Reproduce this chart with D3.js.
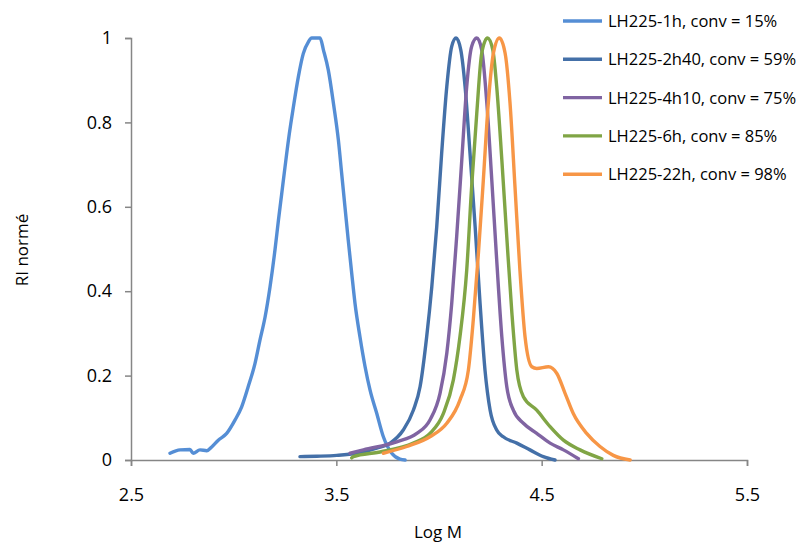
<!DOCTYPE html>
<html>
<head>
<meta charset="utf-8">
<script src="https://cdn.jsdelivr.net/npm/d3@7"></script>
<style>
  body { margin: 0; background: #fff; }
  text { font-family: "Open Sans", "Liberation Sans", sans-serif; fill: #000; }
</style>
</head>
<body>
<svg id="chart" width="808" height="543"></svg>
<script>
// series names (legend order)
var seriesNames = [
  "LH225-1h, conv = 15%",
  "LH225-2h40, conv = 59%",
  "LH225-4h10, conv = 75%",
  "LH225-6h, conv = 85%",
  "LH225-22h, conv = 98%"
];
var seriesColors = ["#558ed5", "#4470a8", "#8064a2", "#80a545", "#f79646"];

// [Log M, RI normé]
var s1h = [[2.69,.016],[2.739,.024],[2.787,.025],[2.803,.016],[2.836,.024],[2.869,.022],[2.893,.031],
  [2.925,.047],[2.966,.063],[3.007,.095],[3.039,.126],[3.071,.174],[3.104,.229],[3.128,.284],[3.153,.339],
  [3.177,.41],[3.201,.497],[3.218,.568],[3.234,.631],[3.25,.694],[3.271,.773],[3.291,.837],[3.315,.908],
  [3.339,.963],[3.364,.991],[3.38,1],[3.421,1],[3.437,.972],[3.461,.924],[3.486,.845],[3.51,.758],
  [3.526,.679],[3.542,.6],[3.558,.521],[3.575,.442],[3.591,.371],[3.615,.292],[3.64,.221],[3.664,.166],
  [3.697,.11],[3.729,.055],[3.77,.016],[3.81,.002],[3.835,0]];
var s2h40 = [[3.323,.008],[3.405,.009],[3.502,.011],[3.6,.016],[3.697,.028],[3.762,.04],[3.826,.071],
  [3.875,.118],[3.908,.174],[3.94,.292],[3.965,.411],[3.989,.553],[4.013,.727],[4.038,.885],[4.062,.98],
  [4.083,1],[4.106,.972],[4.127,.885],[4.151,.727],[4.176,.553],[4.2,.371],[4.224,.213],[4.249,.118],
  [4.281,.071],[4.313,.055],[4.379,.04],[4.443,.024],[4.508,.008],[4.565,0]];
var s4h10 = [[3.567,.016],[3.632,.024],[3.794,.043],[3.892,.063],[3.956,.095],[4.005,.158],[4.038,.253],
  [4.062,.371],[4.086,.529],[4.111,.711],[4.135,.885],[4.159,.98],[4.184,1],[4.208,.972],[4.233,.845],
  [4.257,.664],[4.281,.474],[4.306,.292],[4.33,.174],[4.362,.118],[4.411,.087],[4.476,.063],[4.541,.04],
  [4.606,.024],[4.679,.003]];
var s6h = [[3.575,.005],[3.583,.008],[3.713,.019],[3.875,.04],[3.956,.063],[4.021,.11],[4.07,.19],
  [4.102,.292],[4.135,.45],[4.159,.648],[4.184,.822],[4.208,.964],[4.236,1],[4.262,.972],[4.281,.885],
  [4.306,.711],[4.33,.529],[4.355,.348],[4.379,.213],[4.411,.15],[4.476,.118],[4.541,.079],[4.606,.047],
  [4.687,.024],[4.793,.003]];
var s22h = [[3.729,.016],[3.843,.032],[3.956,.055],[4.038,.087],[4.102,.142],[4.143,.213],[4.167,.332],
  [4.192,.49],[4.216,.664],[4.24,.845],[4.265,.964],[4.294,1],[4.322,.964],[4.346,.845],[4.37,.648],
  [4.394,.45],[4.419,.292],[4.452,.221],[4.476,.217],[4.533,.221],[4.574,.205],[4.614,.158],[4.654,.11],
  [4.719,.063],[4.784,.032],[4.849,.011],[4.931,0]];

var xTicks = [2.5, 3.5, 4.5, 5.5];
var yTicks = [0, 0.2, 0.4, 0.6, 0.8, 1];

var allSeries = [s1h, s2h40, s4h10, s6h, s22h];

var svg = d3.select("#chart");
var x = d3.scaleLinear().domain([2.5, 5.5]).range([131, 747]);
var y = d3.scaleLinear().domain([0, 1]).range([460, 38]);
var axisColor = "#868686";

// y axis
var yAxis = svg.append("g")
  .attr("transform", "translate(131,0)")
  .call(d3.axisLeft(y).tickValues(yTicks).tickSize(6).tickPadding(13)
    .tickFormat(function(d) { return d === 0 || d === 1 ? d : d.toFixed(1); }));
yAxis.select(".domain").attr("stroke", axisColor).attr("stroke-width", 1.5);
yAxis.selectAll(".tick line").attr("stroke", axisColor).attr("stroke-width", 1.5);
yAxis.selectAll(".tick text").style("font-size", "18px").attr("fill", "#000")
  .style("font-family", "'Open Sans', sans-serif");

// x axis
var xAxis = svg.append("g")
  .attr("transform", "translate(0,460)")
  .call(d3.axisBottom(x).tickValues(xTicks).tickSize(6).tickPadding(22).tickFormat(d3.format(".1f")));
xAxis.select(".domain").attr("stroke", axisColor).attr("stroke-width", 1.5);
xAxis.selectAll(".tick line").attr("stroke", axisColor).attr("stroke-width", 1.5);
xAxis.selectAll(".tick text").style("font-size", "18px").attr("fill", "#000")
  .style("font-family", "'Open Sans', sans-serif");

// axis titles
svg.append("text")
  .attr("x", 438).attr("y", 538)
  .attr("text-anchor", "middle")
  .style("font-size", "17px")
  .text("Log M");
svg.append("text")
  .attr("transform", "translate(28,250) rotate(-90)")
  .attr("text-anchor", "middle")
  .style("font-size", "17px")
  .text("RI normé");

// curves
var line = d3.line()
  .x(function(d) { return x(d[0]); })
  .y(function(d) { return y(d[1]); })
  .curve(d3.curveMonotoneX);

svg.selectAll("path.curve")
  .data(allSeries)
  .enter().append("path")
  .attr("class", "curve")
  .attr("d", line)
  .attr("fill", "none")
  .attr("stroke", function(d, i) { return seriesColors[i]; })
  .attr("stroke-width", 3.4)
  .attr("stroke-linejoin", "round")
  .attr("stroke-linecap", "round");

// legend
var legend = svg.selectAll("g.legend")
  .data(seriesNames)
  .enter().append("g")
  .attr("class", "legend")
  .attr("transform", function(d, i) { return "translate(563," + (21 + i * 38.3) + ")"; });
legend.append("line")
  .attr("x1", 0).attr("x2", 39)
  .attr("stroke", function(d, i) { return seriesColors[i]; })
  .attr("stroke-width", 3.4);
legend.append("text")
  .attr("x", 45).attr("dy", "0.36em")
  .style("font-size", "16.5px")
  .text(function(d) { return d; });
</script>
</body>
</html>
